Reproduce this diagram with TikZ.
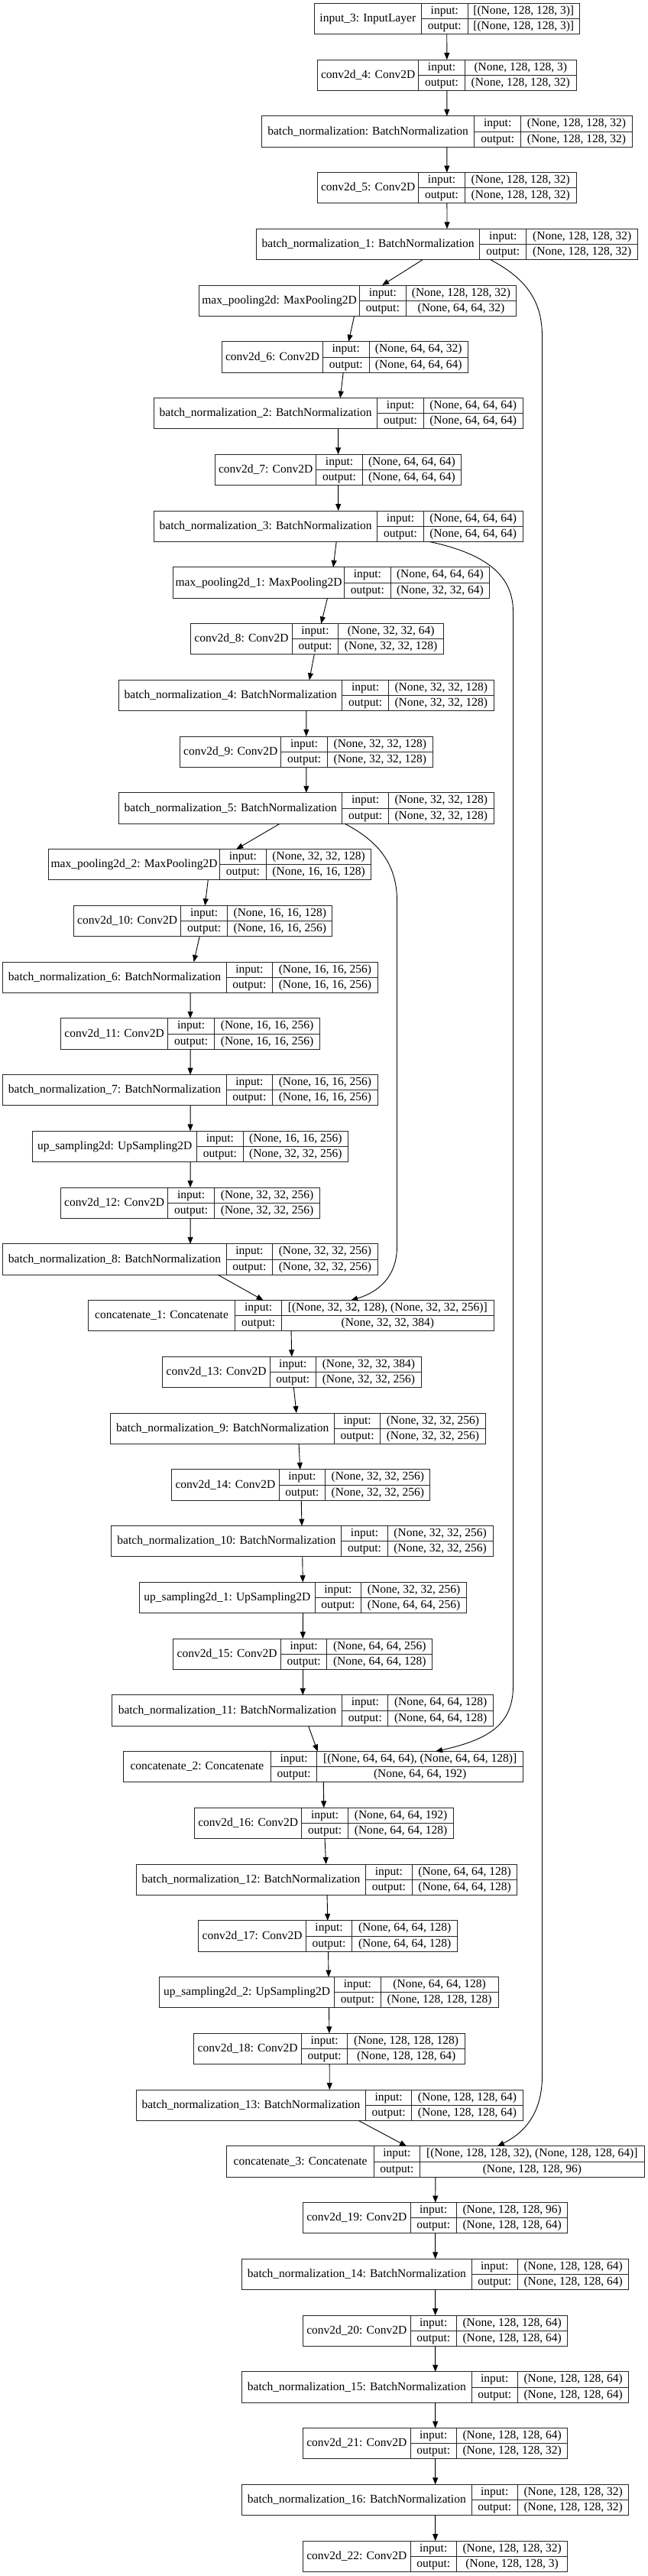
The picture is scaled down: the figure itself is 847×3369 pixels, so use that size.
\documentclass[tikz,border=0pt]{standalone}
\usepackage{fontspec}
\setmainfont{Liberation Serif}
\usetikzlibrary{arrows.meta, calc}

\newcommand{\cellfont}{\fontsize{15.5bp}{18bp}\selectfont}

% name, left, key sep, value sep, right, row, label, input, output
\newcommand{\kerasnode}[9]{%
  \pgfmathsetmacro{\ytop}{4.3+73.75*#6}%
  \pgfmathsetmacro{\ymid}{\ytop+20.2}%
  \pgfmathsetmacro{\ybot}{\ytop+40.4}%
  \node[layerbox, minimum width={(#5-#2)*1bp}, anchor=north west] (#1) at (#2,\ytop) {};
  \draw[cellline] (#3,\ytop) -- (#3,\ybot);
  \draw[cellline] (#4,\ytop) -- (#4,\ybot);
  \draw[cellline] (#3,\ymid) -- (#5,\ymid);
  \node[celltext] (#1-name) at ({(#2+#3)/2},\ymid) {#7};
  \node[celltext] (#1-inkey) at ({(#3+#4)/2},{\ytop+10.1}) {input:};
  \node[celltext] (#1-outkey) at ({(#3+#4)/2},{\ytop+30.3}) {output:};
  \node[celltext] (#1-in) at ({(#4+#5)/2},{\ytop+10.1}) {#8};
  \node[celltext] (#1-out) at ({(#4+#5)/2},{\ytop+30.3}) {#9};
}

\begin{document}
\begin{tikzpicture}[
    x=1bp, y=-1bp,
    layerbox/.style={rectangle, draw=black!85, line width=1bp, fill=white,
                  minimum height=40.4bp, inner sep=0pt, outer sep=0pt},
    cellline/.style={draw=black!85, line width=1bp},
    celltext/.style={font=\cellfont, inner sep=0pt, text height=11bp,
                  text depth=3bp, anchor=center},
    arrow/.style={-{Triangle[length=9bp, width=7bp]}, line width=0.9bp, black}
]
    \path[fill=white, use as bounding box] (0,0) rectangle (847,3369);

    % Encoder
    \kerasnode{inp}{411}{551.6}{612}{758.5}{0}{input\_3: InputLayer}{[(None, 128, 128, 3)]}{[(None, 128, 128, 3)]}
    \kerasnode{conv4}{415.5}{547.8}{608.3}{754.2}{1}{conv2d\_4: Conv2D}{(None, 128, 128, 3)}{(None, 128, 128, 32)}
    \kerasnode{bn0}{342.5}{620.7}{681.8}{827.1}{2}{batch\_normalization: BatchNormalization}{(None, 128, 128, 32)}{(None, 128, 128, 32)}
    \kerasnode{conv5}{415.5}{547.8}{608.3}{754.2}{3}{conv2d\_5: Conv2D}{(None, 128, 128, 32)}{(None, 128, 128, 32)}
    \kerasnode{bn1}{335.5}{627.8}{688.8}{834.7}{4}{batch\_normalization\_1: BatchNormalization}{(None, 128, 128, 32)}{(None, 128, 128, 32)}
    \kerasnode{pool0}{260.4}{470.6}{531.1}{675.8}{5}{max\_pooling2d: MaxPooling2D}{(None, 128, 128, 32)}{(None, 64, 64, 32)}
    \kerasnode{conv6}{290.7}{422.5}{483}{612.6}{6}{conv2d\_6: Conv2D}{(None, 64, 64, 32)}{(None, 64, 64, 64)}
    \kerasnode{bn2}{201.5}{493.8}{554.3}{684}{7}{batch\_normalization\_2: BatchNormalization}{(None, 64, 64, 64)}{(None, 64, 64, 64)}
    \kerasnode{conv7}{281.5}{413.8}{474.3}{603.5}{8}{conv2d\_7: Conv2D}{(None, 64, 64, 64)}{(None, 64, 64, 64)}
    \kerasnode{bn3}{201.5}{493.8}{554.3}{684}{9}{batch\_normalization\_3: BatchNormalization}{(None, 64, 64, 64)}{(None, 64, 64, 64)}
    \kerasnode{pool1}{226.4}{450.6}{511.1}{640.7}{10}{max\_pooling2d\_1: MaxPooling2D}{(None, 64, 64, 64)}{(None, 32, 32, 64)}
    \kerasnode{conv8}{249.6}{382.5}{442.5}{580.8}{11}{conv2d\_8: Conv2D}{(None, 32, 32, 64)}{(None, 32, 32, 128)}
    \kerasnode{bn4}{155.6}{447.9}{508.4}{646.1}{12}{batch\_normalization\_4: BatchNormalization}{(None, 32, 32, 128)}{(None, 32, 32, 128)}
    \kerasnode{conv9}{235.5}{367.9}{428.4}{566.2}{13}{conv2d\_9: Conv2D}{(None, 32, 32, 128)}{(None, 32, 32, 128)}
    \kerasnode{bn5}{155.6}{447.9}{508.4}{646.1}{14}{batch\_normalization\_5: BatchNormalization}{(None, 32, 32, 128)}{(None, 32, 32, 128)}
    \kerasnode{pool2}{63.7}{287.4}{348.5}{485.7}{15}{max\_pooling2d\_2: MaxPooling2D}{(None, 32, 32, 128)}{(None, 16, 16, 128)}

    % Bottleneck
    \kerasnode{conv10}{96.7}{236.6}{297.7}{434.9}{16}{conv2d\_10: Conv2D}{(None, 16, 16, 128)}{(None, 16, 16, 256)}
    \kerasnode{bn6}{3.8}{296.1}{356.6}{494.3}{17}{batch\_normalization\_6: BatchNormalization}{(None, 16, 16, 256)}{(None, 16, 16, 256)}
    \kerasnode{conv11}{79.4}{219.9}{280.4}{418.7}{18}{conv2d\_11: Conv2D}{(None, 16, 16, 256)}{(None, 16, 16, 256)}
    \kerasnode{bn7}{3.8}{296.1}{356.6}{494.3}{19}{batch\_normalization\_7: BatchNormalization}{(None, 16, 16, 256)}{(None, 16, 16, 256)}

    % Decoder
    \kerasnode{up0}{42.7}{257.7}{318.2}{455.4}{20}{up\_sampling2d: UpSampling2D}{(None, 16, 16, 256)}{(None, 32, 32, 256)}
    \kerasnode{conv12}{79.4}{219.9}{280.4}{418.7}{21}{conv2d\_12: Conv2D}{(None, 32, 32, 256)}{(None, 32, 32, 256)}
    \kerasnode{bn8}{3.8}{296.1}{356.6}{494.3}{22}{batch\_normalization\_8: BatchNormalization}{(None, 32, 32, 256)}{(None, 32, 32, 256)}
    \kerasnode{cat1}{115.1}{307.9}{368.5}{646.1}{23}{concatenate\_1: Concatenate}{[(None, 32, 32, 128), (None, 32, 32, 256)]}{(None, 32, 32, 384)}
    \kerasnode{conv13}{212.9}{353.3}{413.3}{551.6}{24}{conv2d\_13: Conv2D}{(None, 32, 32, 384)}{(None, 32, 32, 256)}
    \kerasnode{bn9}{144.8}{437.6}{497.6}{635.3}{25}{batch\_normalization\_9: BatchNormalization}{(None, 32, 32, 256)}{(None, 32, 32, 256)}
    \kerasnode{conv14}{224.7}{365.2}{425.7}{562.9}{26}{conv2d\_14: Conv2D}{(None, 32, 32, 256)}{(None, 32, 32, 256)}
    \kerasnode{bn10}{145.9}{446.8}{507.3}{645}{27}{batch\_normalization\_10: BatchNormalization}{(None, 32, 32, 256)}{(None, 32, 32, 256)}
    \kerasnode{up1}{182.6}{412.2}{472.7}{610.5}{28}{up\_sampling2d\_1: UpSampling2D}{(None, 32, 32, 256)}{(None, 64, 64, 256)}
    \kerasnode{conv15}{226.9}{367.4}{427.9}{565.6}{29}{conv2d\_15: Conv2D}{(None, 64, 64, 256)}{(None, 64, 64, 128)}
    \kerasnode{bn11}{146.9}{447.9}{507.8}{645.6}{30}{batch\_normalization\_11: BatchNormalization}{(None, 64, 64, 128)}{(None, 64, 64, 128)}
    \kerasnode{cat2}{161.5}{354.4}{414.9}{684.5}{31}{concatenate\_2: Concatenate}{[(None, 64, 64, 64), (None, 64, 64, 128)]}{(None, 64, 64, 192)}
    \kerasnode{conv16}{254.5}{394.9}{455.4}{593.7}{32}{conv2d\_16: Conv2D}{(None, 64, 64, 192)}{(None, 64, 64, 128)}
    \kerasnode{bn12}{178.3}{478.7}{539.2}{676.9}{33}{batch\_normalization\_12: BatchNormalization}{(None, 64, 64, 128)}{(None, 64, 64, 128)}
    \kerasnode{conv17}{259.9}{400.3}{460.8}{598.6}{34}{conv2d\_17: Conv2D}{(None, 64, 64, 128)}{(None, 64, 64, 128)}
    \kerasnode{up2}{208.5}{437.6}{498.1}{652.1}{35}{up\_sampling2d\_2: UpSampling2D}{(None, 64, 64, 128)}{(None, 128, 128, 128)}
    \kerasnode{conv18}{253.9}{394.4}{454.9}{608.3}{36}{conv2d\_18: Conv2D}{(None, 128, 128, 128)}{(None, 128, 128, 64)}
    \kerasnode{bn13}{178.3}{478.7}{538.6}{684.5}{37}{batch\_normalization\_13: BatchNormalization}{(None, 128, 128, 64)}{(None, 128, 128, 64)}
    \kerasnode{cat3}{296.6}{489.5}{549.4}{843.3}{38}{concatenate\_3: Concatenate}{[(None, 128, 128, 32), (None, 128, 128, 64)]}{(None, 128, 128, 96)}
    \kerasnode{conv19}{396.5}{537}{597.5}{742.8}{39}{conv2d\_19: Conv2D}{(None, 128, 128, 96)}{(None, 128, 128, 64)}
    \kerasnode{bn14}{316.6}{617}{677.5}{822.8}{40}{batch\_normalization\_14: BatchNormalization}{(None, 128, 128, 64)}{(None, 128, 128, 64)}
    \kerasnode{conv20}{396.5}{537}{597.5}{742.8}{41}{conv2d\_20: Conv2D}{(None, 128, 128, 64)}{(None, 128, 128, 64)}
    \kerasnode{bn15}{316.6}{617}{677.5}{822.8}{42}{batch\_normalization\_15: BatchNormalization}{(None, 128, 128, 64)}{(None, 128, 128, 64)}
    \kerasnode{conv21}{396.5}{537}{597.5}{742.8}{43}{conv2d\_21: Conv2D}{(None, 128, 128, 64)}{(None, 128, 128, 32)}
    \kerasnode{bn16}{316.6}{617}{677.5}{822.8}{44}{batch\_normalization\_16: BatchNormalization}{(None, 128, 128, 32)}{(None, 128, 128, 32)}
    \kerasnode{conv22}{396.5}{537}{597.5}{742.8}{45}{conv2d\_22: Conv2D}{(None, 128, 128, 32)}{(None, 128, 128, 3)}

    % Arrows
    \draw[arrow] (inp) -- (conv4);
    \draw[arrow] (conv4) -- (bn0);
    \draw[arrow] (bn0) -- (conv5);
    \draw[arrow] (conv5) -- (bn1);
    \draw[arrow] (bn1) -- (pool0);
    \draw[arrow] (pool0) -- (conv6);
    \draw[arrow] (conv6) -- (bn2);
    \draw[arrow] (bn2) -- (conv7);
    \draw[arrow] (conv7) -- (bn3);
    \draw[arrow] (bn3) -- (pool1);
    \draw[arrow] (pool1) -- (conv8);
    \draw[arrow] (conv8) -- (bn4);
    \draw[arrow] (bn4) -- (conv9);
    \draw[arrow] (conv9) -- (bn5);
    \draw[arrow] (bn5) -- (pool2);
    \draw[arrow] (pool2) -- (conv10);
    \draw[arrow] (conv10) -- (bn6);
    \draw[arrow] (bn6) -- (conv11);
    \draw[arrow] (conv11) -- (bn7);
    \draw[arrow] (bn7) -- (up0);
    \draw[arrow] (up0) -- (conv12);
    \draw[arrow] (conv12) -- (bn8);
    \draw[arrow] (bn8) -- (cat1);
    \draw[arrow] (cat1) -- (conv13);
    \draw[arrow] (conv13) -- (bn9);
    \draw[arrow] (bn9) -- (conv14);
    \draw[arrow] (conv14) -- (bn10);
    \draw[arrow] (bn10) -- (up1);
    \draw[arrow] (up1) -- (conv15);
    \draw[arrow] (conv15) -- (bn11);
    \draw[arrow] (bn11) -- (cat2);
    \draw[arrow] (cat2) -- (conv16);
    \draw[arrow] (conv16) -- (bn12);
    \draw[arrow] (bn12) -- (conv17);
    \draw[arrow] (conv17) -- (up2);
    \draw[arrow] (up2) -- (conv18);
    \draw[arrow] (conv18) -- (bn13);
    \draw[arrow] (bn13) -- (cat3);
    \draw[arrow] (cat3) -- (conv19);
    \draw[arrow] (conv19) -- (bn14);
    \draw[arrow] (bn14) -- (conv20);
    \draw[arrow] (conv20) -- (bn15);
    \draw[arrow] (bn15) -- (conv21);
    \draw[arrow] (conv21) -- (bn16);
    \draw[arrow] (bn16) -- (conv22);

    % Skip connections
    \draw[arrow] ($(bn1.south)+(56.7,0)$) .. controls (690,365) and (709.5,395) .. (709.5,440)
        -- (709.5,2715) .. controls (709.5,2765) and (685,2790) .. ($(cat3.north)+(81,0)$);
    \draw[arrow] ($(bn3.south)+(119.2,0)$) .. controls (640,725) and (671.5,755) .. (671.5,800)
        -- (671.5,2205) .. controls (671.5,2255) and (640,2275) .. ($(cat2.north)+(147,0)$);
    \draw[arrow] ($(bn5.south)+(50.2,0)$) .. controls (495,1100) and (519.5,1130) .. (519.5,1178)
        -- (519.5,1630) .. controls (519.5,1670) and (495,1690) .. ($(cat1.north)+(78.6,0)$);
\end{tikzpicture}
\end{document}
